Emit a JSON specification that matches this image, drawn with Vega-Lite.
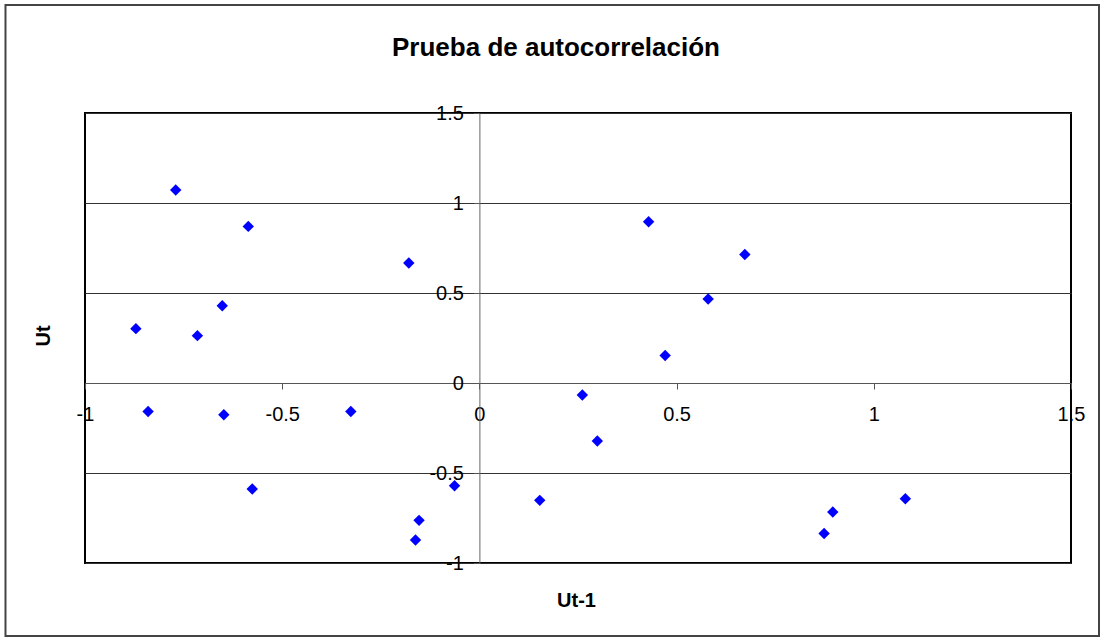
{
  "$schema": "https://vega.github.io/schema/vega-lite/v6.json",
  "width": 986,
  "height": 450,
  "autosize": {"type": "none"},
  "padding": {"left": 85, "top": 113, "right": 31, "bottom": 74},
  "background": "white",
  "config": {
    "view": {"stroke": "#000000", "strokeWidth": 2},
    "font": "Liberation Sans"
  },
  "title": {
    "text": "Prueba de autocorrelación",
    "anchor": "middle",
    "frame": "group",
    "dx": -22,
    "offset": -78,
    "baseline": "alphabetic",
    "fontSize": 26,
    "fontWeight": "bold",
    "font": "Liberation Sans",
    "color": "#000000"
  },
  "layer": [
    {
      "data": {"values": [{"left": -1.2016, "right": 1.571, "top": 2.1, "bottom": -1.406}]},
      "mark": {"type": "rect", "filled": false, "stroke": "#444444", "strokeWidth": 2},
      "encoding": {
        "x": {"field": "left", "type": "quantitative", "scale": {"domain": [-1, 1.5], "nice": false, "zero": false}},
        "x2": {"field": "right"},
        "y": {"field": "top", "type": "quantitative", "scale": {"domain": [-1, 1.5], "nice": false, "zero": false}},
        "y2": {"field": "bottom"}
      }
    },
    {
      "data": {
        "values": [
          {"ut1": -0.770, "ut": 1.072},
          {"ut1": -0.586, "ut": 0.870},
          {"ut1": -0.179, "ut": 0.667},
          {"ut1": -0.652, "ut": 0.429},
          {"ut1": -0.871, "ut": 0.302},
          {"ut1": -0.715, "ut": 0.263},
          {"ut1": -0.840, "ut": -0.158},
          {"ut1": -0.648, "ut": -0.176},
          {"ut1": -0.326, "ut": -0.158},
          {"ut1": -0.576, "ut": -0.589},
          {"ut1": -0.063, "ut": -0.571},
          {"ut1": -0.153, "ut": -0.763},
          {"ut1": -0.162, "ut": -0.872},
          {"ut1": 0.429, "ut": 0.896},
          {"ut1": 0.673, "ut": 0.714},
          {"ut1": 0.580, "ut": 0.467},
          {"ut1": 0.471, "ut": 0.153},
          {"ut1": 0.261, "ut": -0.067},
          {"ut1": 0.299, "ut": -0.322},
          {"ut1": 0.153, "ut": -0.652},
          {"ut1": 1.080, "ut": -0.643},
          {"ut1": 0.896, "ut": -0.717},
          {"ut1": 0.874, "ut": -0.836}
        ]
      },
      "mark": {"type": "point", "shape": "diamond", "filled": true, "size": 130, "fill": "#0000FF", "strokeWidth": 0, "opacity": 1},
      "encoding": {
        "x": {
          "field": "ut1",
          "type": "quantitative",
          "scale": {"domain": [-1, 1.5], "nice": false, "zero": false},
          "axis": {
            "title": "Ut-1",
            "offset": -180,
            "values": [-1, -0.5, 0, 0.5, 1, 1.5],
            "labelExpr": "'' + datum.value",
            "grid": false,
            "tickSize": 6,
            "labelPadding": 15,
            "labelFontSize": 20,
            "labelFont": "Liberation Sans",
            "labelColor": "#000000",
            "labelFlush": false,
            "labelOverlap": false,
            "labelBound": false,
            "domainColor": "#555555",
            "tickColor": "#555555",
            "titleFontSize": 20,
            "titleFontWeight": "bold",
            "titleFont": "Liberation Sans",
            "titleColor": "#000000",
            "titleBaseline": "alphabetic",
            "titleX": 491,
            "titleY": 223
          }
        },
        "y": {
          "field": "ut",
          "type": "quantitative",
          "scale": {"domain": [-1, 1.5], "nice": false, "zero": false},
          "axis": {
            "title": "Ut",
            "offset": -394.4,
            "values": [-1, -0.5, 0, 0.5, 1, 1.5],
            "labelExpr": "'' + datum.value",
            "grid": true,
            "gridColor": "#333333",
            "gridOpacity": 1,
            "tickSize": 6,
            "labelPadding": 10,
            "labelFontSize": 20,
            "labelFont": "Liberation Sans",
            "labelColor": "#000000",
            "labelFlush": false,
            "labelOverlap": false,
            "labelBound": false,
            "domainColor": "#666666",
            "tickColor": "#555555",
            "titleFontSize": 20,
            "titleFontWeight": "bold",
            "titleFont": "Liberation Sans",
            "titleColor": "#000000",
            "titleAngle": 270,
            "titleBaseline": "alphabetic",
            "titleX": -430,
            "titleY": 222.5
          }
        }
      }
    }
  ]
}
